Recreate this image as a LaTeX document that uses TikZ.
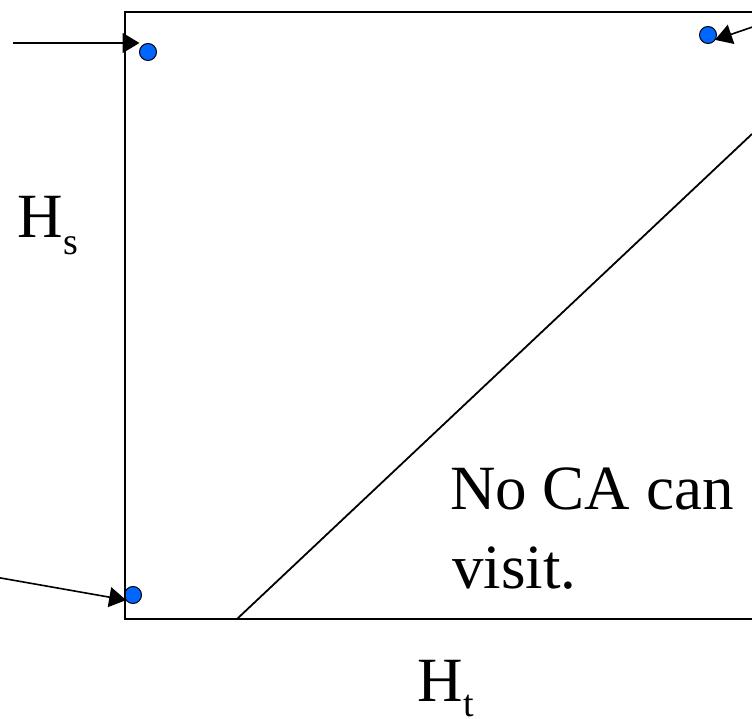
\documentclass[tikz,border=0pt]{standalone}
\usepackage{fontspec}
\newfontfamily\timesfont{LiberationSerif}[Extension=.ttf, UprightFont=*-Regular]
\usepackage{tikz}
\usetikzlibrary{arrows.meta, calc, positioning}

\begin{document}
\begin{tikzpicture}[
  x=1pt, y=1pt,
  >={Triangle[length=17pt, width=20pt]},
  frame/.style={draw=black, line width=1.8pt},
  dot/.style={circle, draw=black, line width=1pt, fill=dotblue,
              minimum size=17pt, inner sep=0pt, outer sep=0pt},
  arr/.style={->, line width=1.6pt, draw=black},
  lbl/.style={anchor=base west, inner sep=0pt,
              font=\timesfont\fontsize{63}{78}\selectfont},
  sub/.style={anchor=base west, inner sep=0pt,
              font=\timesfont\fontsize{38}{38}\selectfont},
]
\definecolor{dotblue}{RGB}{0,102,255}
\useasboundingbox (0,0) rectangle (752,718);
\clip (0,0) rectangle (752,718);

% ============ NODES ============

% Corners of the region
\coordinate (nw) at (125,706);
\coordinate (sw) at (125,99);
\coordinate (ne) at (770,706);
\coordinate (se) at (770,99);

% Diagonal end points
\coordinate (dlow)  at (237,99);
\coordinate (dhigh) at (752,584);

% Visited points
\node[dot] (tldot) at (148,666) {};
\node[dot] (trdot) at (708,683) {};
\node[dot] (bldot) at (133,123) {};

% Arrow tails (off the left / right edges)
\coordinate (tltail) at (13,675);
\coordinate (trtail) at (770,697);
\coordinate (bltail) at (-5,141);

% Axis labels
\node[lbl] (hs) at (17,480) {H};
\node[sub] at ($(hs.base east)+(0,-17)$) {s};
\node[lbl] (ht) at (417,17) {H};
\node[sub] at ($(ht.base east)+(0,-15)$) {t};

% Forbidden region text
\node[lbl] (nota) at (450,208) {No CA can};
\node[lbl] (notb) at (452,130) {visit.};

% ============ LINES ============

\draw[frame] (ne) -- (nw) -- (sw) -- (se);
\draw[frame] (dlow) -- (dhigh);

% ============ ARROWS ============

\draw[arr] (tltail) -- (tltail -| tldot.west);
\draw[arr] (trtail) -- (trdot.-35);
\draw[arr] (bltail) -- (bldot.217);

\end{tikzpicture}
\end{document}
